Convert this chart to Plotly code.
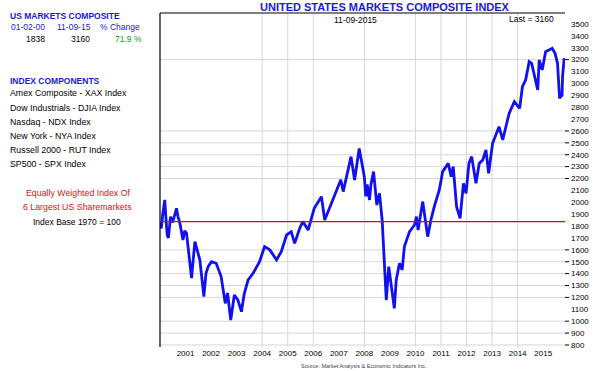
import plotly.graph_objects as go

dates = [
    "2000-01-03", "2000-01-20", "2000-02-10", "2000-03-10", "2000-03-25", "2000-04-15", "2000-05-01",
    "2000-06-01", "2000-07-01", "2000-08-25", "2000-09-15", "2000-10-12", "2000-11-25", "2000-12-20",
    "2001-01-15", "2001-02-15", "2001-03-28", "2001-05-15", "2001-06-15", "2001-07-25", "2001-09-20",
    "2001-10-20", "2001-11-20", "2002-01-07", "2002-03-15", "2002-05-25", "2002-07-23", "2002-08-25",
    "2002-10-09", "2002-11-30", "2003-01-20", "2003-03-11", "2003-04-20", "2003-06-15", "2003-08-25",
    "2003-11-25", "2004-02-05", "2004-04-20", "2004-07-25", "2004-10-01", "2004-12-15", "2005-02-20",
    "2005-04-10", "2005-06-20", "2005-08-05", "2005-10-20", "2006-01-15", "2006-04-28", "2006-06-14",
    "2006-10-08", "2007-01-30", "2007-03-05", "2007-06-25", "2007-08-15", "2007-10-20",
    "2008-01-01", "2008-01-22", "2008-02-10", "2008-03-15", "2008-04-05", "2008-05-12", "2008-06-28",
    "2008-08-05", "2008-09-12", "2008-10-01", "2008-10-15", "2008-11-10", "2008-12-15", "2009-01-18",
    "2009-03-05", "2009-04-01", "2009-05-18", "2009-06-25", "2009-07-27", "2009-10-08", "2009-12-18",
    "2010-01-15", "2010-02-08", "2010-04-15", "2010-06-25", "2010-08-10", "2010-09-27", "2010-12-08",
    "2011-01-25", "2011-04-15", "2011-05-27", "2011-06-25", "2011-08-12", "2011-10-01", "2011-11-18",
    "2011-12-25", "2012-02-05", "2012-03-15", "2012-05-15", "2012-07-01", "2012-08-20", "2012-10-05",
    "2012-11-12", "2013-01-08", "2013-04-10", "2013-06-01", "2013-09-01", "2013-11-15", "2014-01-30",
    "2014-03-10", "2014-04-25", "2014-06-15", "2014-07-20", "2014-10-15", "2014-11-05", "2014-12-18",
    "2015-02-05", "2015-03-25", "2015-05-10", "2015-06-20", "2015-07-25", "2015-08-24", "2015-09-05",
    "2015-09-28", "2015-10-05", "2015-10-28", "2015-11-09",
]
values = [
    1838, 1780, 1900, 2020, 1880, 1720, 1700,
    1879, 1830, 1950, 1880, 1826, 1683, 1760,
    1742, 1600, 1363, 1670, 1600, 1515, 1206,
    1400, 1459, 1500, 1487, 1375, 1150, 1237,
    1010, 1220, 1178, 1080, 1230, 1347, 1403,
    1500, 1628, 1600, 1515, 1585, 1725, 1753,
    1655, 1780, 1838, 1767, 1950, 2047, 1851,
    2020, 2190, 2090, 2384, 2188, 2453,
    2216, 2050, 2150, 2020, 2150, 2258, 1977,
    2075, 1851, 1600, 1417, 1178, 1459, 1290,
    1108, 1347, 1487, 1431, 1628, 1753, 1809,
    1879, 1767, 2006, 1711, 1851, 1963, 2104,
    2258, 2327, 2216, 2300, 1963, 1865, 2160,
    2075, 2327, 2384, 2160, 2327, 2356, 2440,
    2244, 2496, 2636, 2524, 2748, 2846, 2790,
    2972, 3028, 3183, 3169, 2945, 3197, 3113,
    3267, 3281, 3295, 3253, 3169, 2874, 2888,
    2900, 3056, 3211, 3160,
]

base_value = 1838
year_labels = [str(y) for y in range(2001, 2016)]
ytick_values = list(range(800, 3600, 100))
hgrid_values = [3200, 2600, 2500, 2400, 2300, 2200, 1600, 1500, 1400, 1300, 1200, 1000, 900, 800]
vgrid_years = [2004, 2005, 2006, 2008, 2010, 2011, 2012, 2013, 2014]

components = [
    "Amex Composite - XAX Index",
    "Dow Industrials - DJIA Index",
    "Nasdaq - NDX Index",
    "New York - NYA Index",
    "Russell 2000 - RUT Index",
    "SP500 - SPX Index",
]

FONT = "Liberation Sans, Arial, sans-serif"
BLUE = "#1a1ad6"
GRID = "#d6d6de"

fig = go.Figure()
fig.add_trace(go.Scatter(x=dates, y=values, mode="lines",
                         line=dict(color="#1010f0", width=2.8), hoverinfo="skip"))

shapes = []
for v in hgrid_values:
    shapes.append(dict(type="line", xref="paper", yref="y", x0=0, x1=1, y0=v, y1=v,
                       line=dict(color=GRID, width=1), layer="below"))
    shapes.append(dict(type="line", xref="paper", yref="y", x0=1.0, x1=1.01, y0=v, y1=v,
                       line=dict(color="black", width=1)))
for yv in vgrid_years:
    shapes.append(dict(type="line", xref="x", yref="paper", x0=f"{yv}-01-01", x1=f"{yv}-01-01",
                       y0=0, y1=1, line=dict(color=GRID, width=1), layer="below"))
shapes.append(dict(type="line", xref="paper", yref="y", x0=0, x1=1, y0=base_value, y1=base_value,
                   line=dict(color="#e00000", width=1.2)))
shapes.append(dict(type="line", xref="paper", yref="paper", x0=0, x1=0, y0=0, y1=1,
                   line=dict(color="black", width=1.2)))
shapes.append(dict(type="line", xref="paper", yref="paper", x0=0, x1=1, y0=1, y1=1,
                   line=dict(color="black", width=1.2)))

ann = []
def txt(x, y, s, color="black", size=8.5, bold=False, xanchor="left"):
    ann.append(dict(xref="paper", yref="paper", x=x, y=y, text=f"<b>{s}</b>" if bold else s,
                    showarrow=False, xanchor=xanchor, yanchor="middle",
                    font=dict(family=FONT, size=size, color=color)))

W, H = 600, 371
L, R, T, B = 160, 35, 13, 24
pw, ph = W - L - R, H - T - B
def px(x):
    return (x - L) / pw
def py(y):
    return 1 - (y - T) / ph

txt(px(385), py(7), "UNITED STATES MARKETS COMPOSITE INDEX", color=BLUE, size=11, bold=True, xanchor="center")
txt(px(355), py(19.5), "11-09-2015", size=8.5, xanchor="center")
txt(px(531), py(18.5), "Last = 3160", size=8.5, xanchor="center")

txt(px(8), py(15.5), "US MARKETS COMPOSITE", color=BLUE, size=8.5, bold=True)
txt(px(9), py(27), "01-02-00", color=BLUE)
txt(px(55), py(27), "11-09-15", color=BLUE)
txt(px(98), py(27), "% Change", color=BLUE)
txt(px(24), py(39), "1838")
txt(px(69), py(39), "3160")
txt(px(113), py(39), "71.9 %", color="#109a10")

txt(px(8), py(81), "INDEX COMPONENTS", color=BLUE, size=8.5, bold=True)
for i, c in enumerate(components):
    txt(px(8), py(93.3 + 14.2 * i), c, size=8.8)

txt(px(78), py(193.3), "Equally Weighted Index Of", color="#dd1010", size=8.8, xanchor="center")
txt(px(77), py(207.3), "6 Largest US Sharemarkets", color="#dd1010", size=8.8, xanchor="center")
txt(px(77), py(221.7), "Index Base 1970 = 100", size=8.5, xanchor="center")
txt(px(364), py(366), "Source: Market Analysis &amp; Economic Indicators Inc.", color="#444444", size=5.5, xanchor="center")

fig.update_layout(
    width=W, height=H,
    margin=dict(l=L, r=R, t=T, b=B),
    paper_bgcolor="white", plot_bgcolor="white",
    showlegend=False,
    shapes=shapes,
    annotations=ann,
    hovermode=False,
    font=dict(family=FONT, size=8, color="black"),
    xaxis=dict(type="date", range=["2000-01-02", "2015-11-09"],
               tickvals=[f"{y}-01-01" for y in year_labels], ticktext=year_labels,
               showgrid=False, showline=False, zeroline=False, ticks="",
               tickfont=dict(family=FONT, size=8, color="black")),
    yaxis=dict(side="right", range=[783, 3592], tickvals=ytick_values,
               ticktext=[str(v) for v in ytick_values],
               showgrid=False, showline=False, zeroline=False, ticks="",
               ticklabelstandoff=5,
               tickfont=dict(family=FONT, size=8, color="black")),
)

fig.write_html("out.html",
               config={"displayModeBar": False, "staticPlot": True},
               post_script="document.body.style.margin='0';document.body.style.padding='0';"
                           "document.body.style.overflow='hidden';")
